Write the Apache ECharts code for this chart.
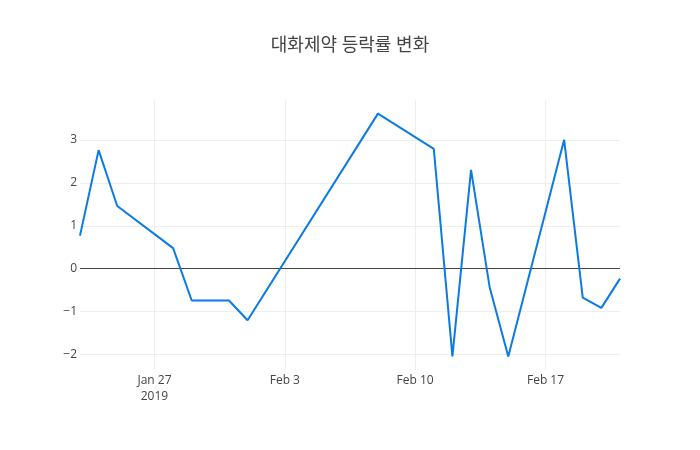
<!DOCTYPE html>
<html>
<head>
<meta charset="utf-8">
<script src="https://cdn.jsdelivr.net/npm/echarts@6/dist/echarts.min.js"></script>
<style>
	html, body { margin: 0; padding: 0; background: #fff; }
	#chart { width: 700px; height: 450px; }
</style>
</head>
<body>
<div id="chart"></div>
<script>
// 거래일 (trading days)
let dates = [
	"2019-01-23", "2019-01-24", "2019-01-25", "2019-01-28", "2019-01-29",
	"2019-01-31", "2019-02-01", "2019-02-08", "2019-02-11", "2019-02-12",
	"2019-02-13", "2019-02-14", "2019-02-15", "2019-02-18", "2019-02-19",
	"2019-02-20", "2019-02-21",
];
// 등락률 (%)
let changes = [
	0.77, 2.76, 1.46, 0.48, -0.74,
	-0.74, -1.2, 3.61, 2.79, -2.04,
	2.3, -0.43, -2.04, 3.0, -0.67,
	-0.91, -0.23,
];
let xTicks = ["2019-01-27", "2019-02-03", "2019-02-10", "2019-02-17"];
let yTicks = [-2, -1, 0, 1, 2, 3];

function toTime(s) {
	let p = s.split("-").map(Number);
	return new Date(p[0], p[1] - 1, p[2]).getTime();
}

function rateChart() {
	let dom = document.getElementById("chart");
	let myChart = echarts.init(dom, null, { renderer: "canvas" });

	let months = ["Jan", "Feb", "Mar", "Apr", "May", "Jun", "Jul", "Aug", "Sep", "Oct", "Nov", "Dec"];
	let tickTimes = xTicks.map(toTime);
	let points = dates.map((d, i) => [toTime(d), changes[i]]);

	let yMin = Math.min(...changes);
	let yMax = Math.max(...changes);
	let pad = (yMax - yMin) * 0.056; // plotly 스타일 여백

	let option = {
		animation: false,
		title: {
			text: "대화제약 등락률 변화",
			left: "center",
			top: 32,
			textStyle: {
				fontFamily: "'Open Sans', 'Noto Sans CJK KR'",
				fontSize: 18,
				fontWeight: "normal",
				color: "#444",
			},
		},
		grid: { left: 80, right: 80, top: 100, bottom: 80 },
		xAxis: {
			type: "value",
			min: toTime(dates[0]),
			max: toTime(dates[dates.length - 1]),
			axisLine: { show: false },
			axisTick: { show: false, customValues: tickTimes },
			splitLine: { show: true, lineStyle: { color: "#eee", width: 1 } },
			axisLabel: {
				customValues: tickTimes,
				margin: 3,
				lineHeight: 16,
				color: "#444",
				fontSize: 12,
				fontFamily: "'Open Sans'",
				formatter: function (value) {
					let d = new Date(value);
					let s = months[d.getMonth()] + " " + d.getDate();
					if (value === tickTimes[0]) s += "\n" + d.getFullYear();
					return s;
				},
			},
		},
		yAxis: {
			type: "value",
			min: yMin - pad,
			max: yMax + pad,
			axisLine: { show: false },
			axisTick: { show: false, customValues: yTicks },
			splitLine: { show: true, lineStyle: { color: "#eee", width: 1 } },
			axisLabel: {
				customValues: yTicks,
				margin: 3,
				color: "#444",
				fontSize: 12,
				fontFamily: "'Open Sans'",
				formatter: function (v) {
					return v < 0 ? "\u2212" + Math.abs(v) : String(v);
				},
			},
		},
		series: [
			{
				name: "등락률",
				type: "line",
				data: points,
				showSymbol: false,
				symbol: "none",
				lineStyle: { width: 2, color: "#0a7be3" },
				itemStyle: { color: "#0a7be3" },
				z: 3,
				markLine: {
					silent: true,
					symbol: "none",
					label: { show: false },
					lineStyle: { color: "#444", width: 1, type: "solid" },
					data: [{ yAxis: 0 }],
					z: 2,
				},
			},
		],
	};

	myChart.setOption(option);
	window.addEventListener("resize", myChart.resize);
}

(function init() {
	rateChart();
})();
</script>
</body>
</html>
